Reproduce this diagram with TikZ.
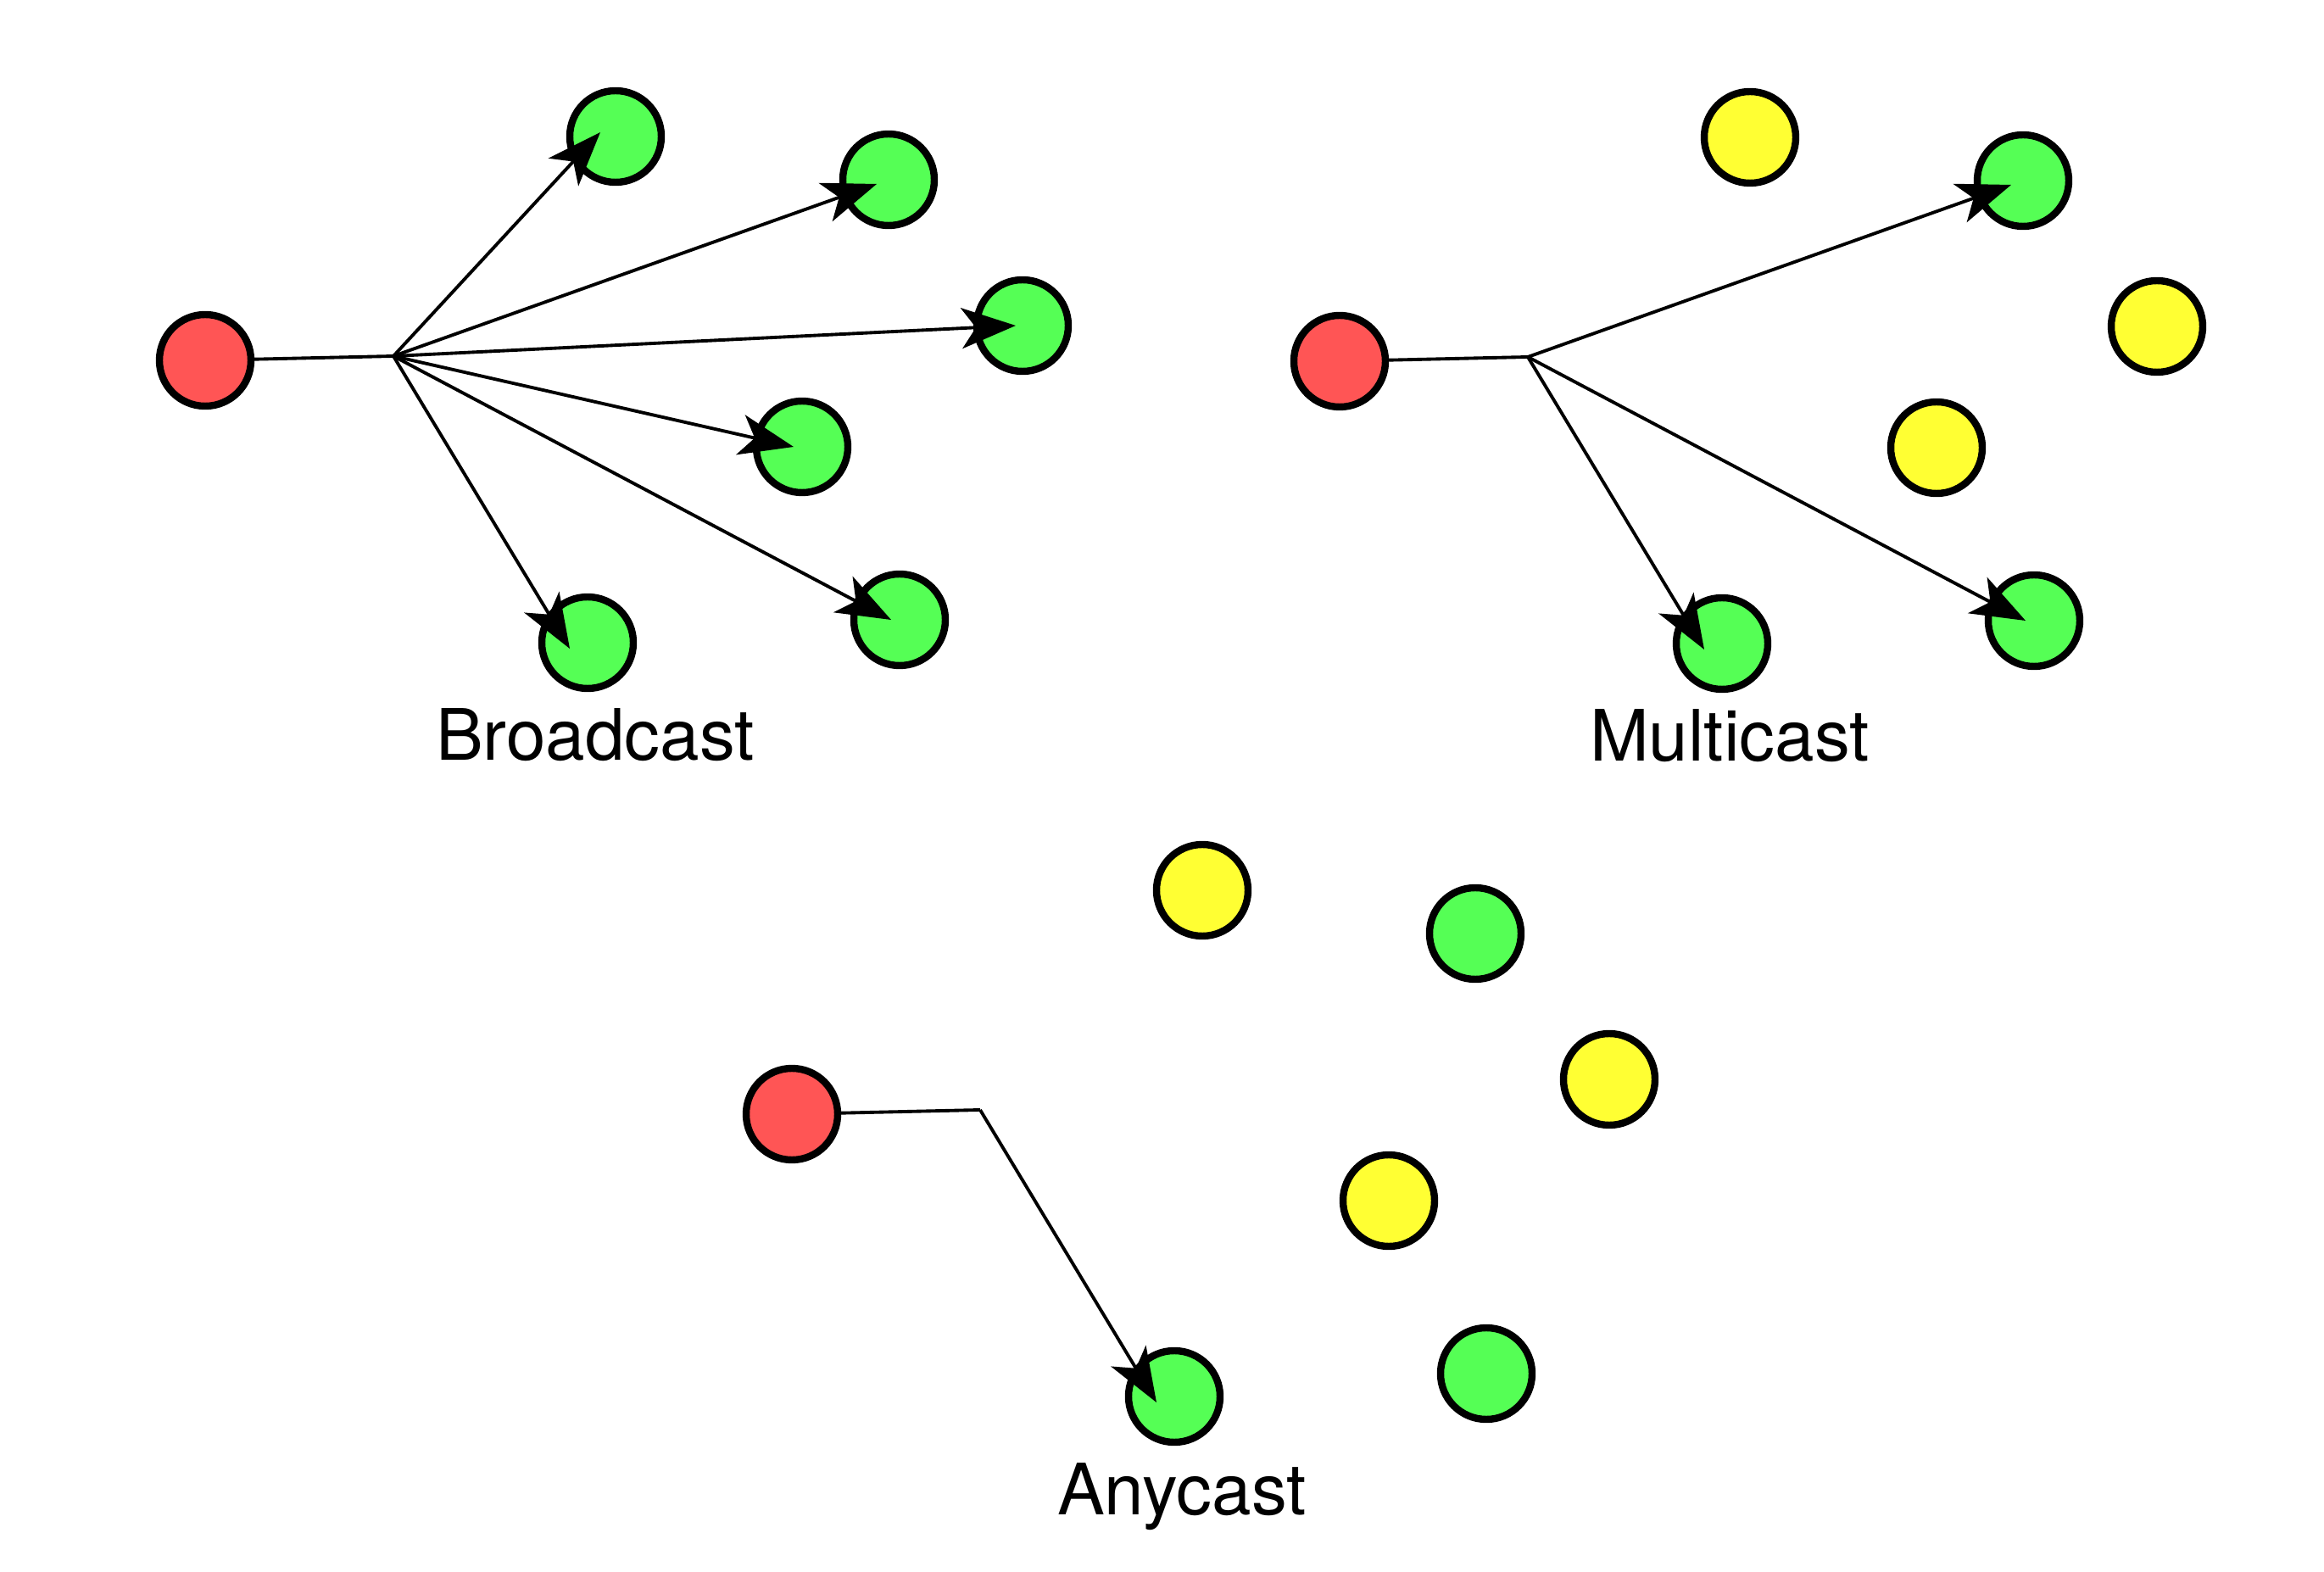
\documentclass[tikz,border=0pt]{standalone}
\usepackage{fontspec}
\setmainfont{TeX Gyre Heros}
\usetikzlibrary{arrows.meta}
\definecolor{srcred}{HTML}{FF5555}
\definecolor{hitgreen}{HTML}{55FF55}
\definecolor{idleyellow}{HTML}{FFFF33}

\begin{document}
\begin{tikzpicture}[sender/.style={circle,draw=black,fill=srcred,line width=2.4pt,minimum size=1.08cm,inner sep=0pt},receiver/.style={circle,draw=black,fill=hitgreen,line width=2.4pt,minimum size=1.08cm,inner sep=0pt},idle/.style={circle,draw=black,fill=idleyellow,line width=2.4pt,minimum size=1.08cm,inner sep=0pt},wire/.style={draw=black,line width=1.1pt,>={Stealth[length=0.64cm,width=0.48cm,inset=0.17cm]}},tip/.style={->},cast/.style={anchor=base,font=\fontsize{23.8}{28}\selectfont},]
        \useasboundingbox (0,0) rectangle (27.41,-18.54);

        % broadcast
        \begin{scope}[shift={(2.42,-4.25)}]
            \node[sender] (bs) at (0,0) {};
            \coordinate (bh) at (2.22,0.05);
            \node[receiver] (b1) at (4.84,2.64) {};
            \node[receiver] (b2) at (8.06,2.13) {};
            \node[receiver] (b3) at (9.64,0.41) {};
            \node[receiver] (b4) at (7.04,-1.02) {};
            \node[receiver] (b5) at (8.19,-3.06) {};
            \node[receiver] (b6) at (4.51,-3.33) {};
            \draw[wire] (bs) -- (bh);
            \draw[wire,tip] (bh) -- ([xshift=-0.18cm,yshift=0.05cm]b1.center);
            \draw[wire,tip] (bh) -- ([xshift=-0.14cm,yshift=-0.05cm]b2.center);
            \draw[wire,tip] (bh) -- ([xshift=-0.08cm]b3.center);
            \draw[wire,tip] (bh) -- ([xshift=-0.1cm]b4.center);
            \draw[wire,tip] (bh) -- ([xshift=-0.1cm]b5.center);
            \draw[wire,tip] (bh) -- ([xshift=-0.21cm,yshift=-0.07cm]b6.center);
            \node[cast] (bcap) at (4.60,-4.72) {Broadcast};
        \end{scope}

        % multicast
        \begin{scope}[shift={(15.80,-4.26)}]
            \node[sender] (ms) at (0,0) {};
            \coordinate (mh) at (2.22,0.05);
            \node[idle] (m1) at (4.84,2.64) {};
            \node[receiver] (m2) at (8.06,2.13) {};
            \node[idle] (m3) at (9.64,0.41) {};
            \node[idle] (m4) at (7.04,-1.02) {};
            \node[receiver] (m5) at (8.19,-3.06) {};
            \node[receiver] (m6) at (4.51,-3.33) {};
            \draw[wire] (ms) -- (mh);
            \draw[wire,tip] (mh) -- ([xshift=-0.14cm,yshift=-0.05cm]m2.center);
            \draw[wire,tip] (mh) -- ([xshift=-0.1cm]m5.center);
            \draw[wire,tip] (mh) -- ([xshift=-0.21cm,yshift=-0.07cm]m6.center);
            \node[cast] (mcap) at (4.60,-4.72) {Multicast};
        \end{scope}

        % anycast
        \begin{scope}[shift={(9.34,-13.14)}]
            \node[sender] (as) at (0,0) {};
            \coordinate (ah) at (2.22,0.05);
            \node[idle] (a1) at (4.84,2.64) {};
            \node[receiver] (a2) at (8.06,2.13) {};
            \node[idle] (a3) at (9.64,0.41) {};
            \node[idle] (a4) at (7.04,-1.02) {};
            \node[receiver] (a5) at (8.19,-3.06) {};
            \node[receiver] (a6) at (4.51,-3.33) {};
            \draw[wire] (as) -- (ah);
            \draw[wire,tip] (ah) -- ([xshift=-0.21cm,yshift=-0.07cm]a6.center);
            \node[cast] (acap) at (4.60,-4.72) {Anycast};
        \end{scope}
    \end{tikzpicture}
\end{document}
